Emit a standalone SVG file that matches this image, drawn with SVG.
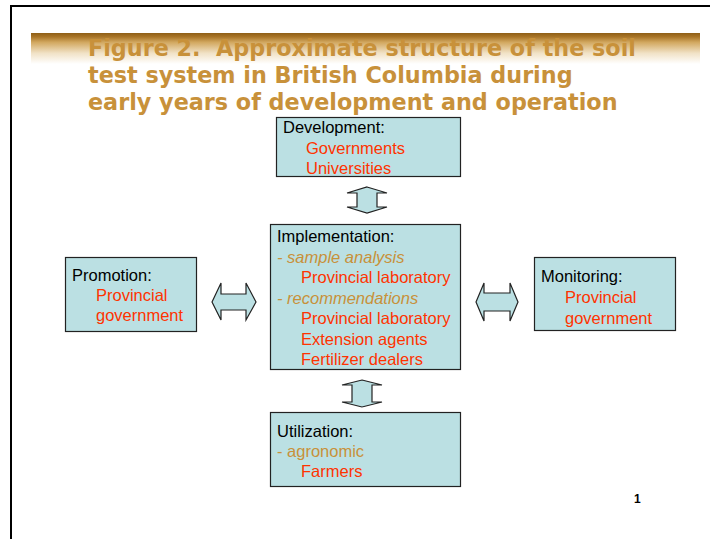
<svg xmlns="http://www.w3.org/2000/svg" width="710" height="539" viewBox="0 0 710 539">
  <defs>
    <linearGradient id="band" x1="0" y1="0" x2="0" y2="1">
      <stop offset="0" stop-color="#8E5E16"/>
      <stop offset="0.12" stop-color="#A87426"/>
      <stop offset="0.3" stop-color="#D2A860"/>
      <stop offset="0.65" stop-color="#F1E2C6"/>
      <stop offset="1" stop-color="#FFFFFF"/>
    </linearGradient>
    <style>
      .box { fill: #BBE0E3; stroke: #222; stroke-width: 1.2; }
      .arrow { fill: #BBE0E3; stroke: #222; stroke-width: 1.2; stroke-linejoin: miter; }
      .t { font-family: "Liberation Sans", Arial, sans-serif; font-size: 16.5px; }
      .lbl { fill: #000; }
      .red { fill: #FF3300; }
      .tan { fill: #C8913A; font-style: italic; }
      .tan2 { fill: #C8913A; }
      .title { font-family: "DejaVu Sans", Verdana, sans-serif; font-weight: bold; font-size: 22.3px; fill: #C8913A; }
    </style>
  </defs>

  <rect width="710" height="539" fill="#fff"/>
  <!-- page frame -->
  <path d="M11 539 V6 H710" fill="none" stroke="#000" stroke-width="2"/>

  <!-- title band -->
  <rect x="31" y="33" width="669" height="31" fill="url(#band)"/>
  <text class="title" xml:space="preserve"><tspan x="88" y="56">Figure 2.  Approximate structure of the soil</tspan><tspan x="88" y="83">test system in British Columbia during</tspan><tspan x="88" y="110">early years of development and operation</tspan></text>

  <!-- connectors -->
  <g id="connectors">
    <polygon class="arrow" points="367,187 387,193 377,193 377,207 387,207 367,213 347,207 357,207 357,193 347,193"/>
    <polygon class="arrow" points="362,380 382,385 372,385 372,402 382,402 362,407 342,402 352,402 352,385 342,385"/>
    <polygon class="arrow" points="212,302 221,283 221,294 246,294 246,283 256,302 246,320 246,310 221,310 221,320"/>
    <polygon class="arrow" points="476,302 484,283 484,293 510,293 510,283 518,302 510,321 510,311 484,311 484,321"/>
  </g>

  <g id="development">
    <rect class="box" x="276.5" y="117.5" width="184" height="59"/>
    <text class="t lbl" x="283" y="133">Development:</text>
    <text class="t red" x="306" y="154">Governments</text>
    <text class="t red" x="306" y="174">Universities</text>
  </g>

  <g id="implementation">
    <rect class="box" x="270.5" y="224.5" width="190" height="145"/>
    <text class="t lbl" x="277" y="242">Implementation:</text>
    <text class="t tan" x="277" y="263">- sample analysis</text>
    <text class="t red" x="301" y="283">Provincial laboratory</text>
    <text class="t tan" x="277" y="304">- recommendations</text>
    <text class="t red" x="301" y="324">Provincial laboratory</text>
    <text class="t red" x="301" y="345">Extension agents</text>
    <text class="t red" x="301" y="365">Fertilizer dealers</text>
  </g>

  <g id="promotion">
    <rect class="box" x="65.5" y="257.5" width="131" height="74"/>
    <text class="t lbl" x="72" y="281">Promotion:</text>
    <text class="t red" x="96" y="301">Provincial</text>
    <text class="t red" x="96" y="321">government</text>
  </g>

  <g id="monitoring">
    <rect class="box" x="534.5" y="257.5" width="141" height="73"/>
    <text class="t lbl" x="541" y="282">Monitoring:</text>
    <text class="t red" x="565" y="303">Provincial</text>
    <text class="t red" x="565" y="324">government</text>
  </g>

  <g id="utilization">
    <rect class="box" x="270.5" y="412.5" width="190" height="74"/>
    <text class="t lbl" x="277" y="437">Utilization:</text>
    <text class="t tan2" x="277" y="457">- agronomic</text>
    <text class="t red" x="301" y="477">Farmers</text>
  </g>

  <text x="634" y="503" font-family="Liberation Sans, Arial, sans-serif" font-weight="bold" font-size="12" fill="#000">1</text>
</svg>
